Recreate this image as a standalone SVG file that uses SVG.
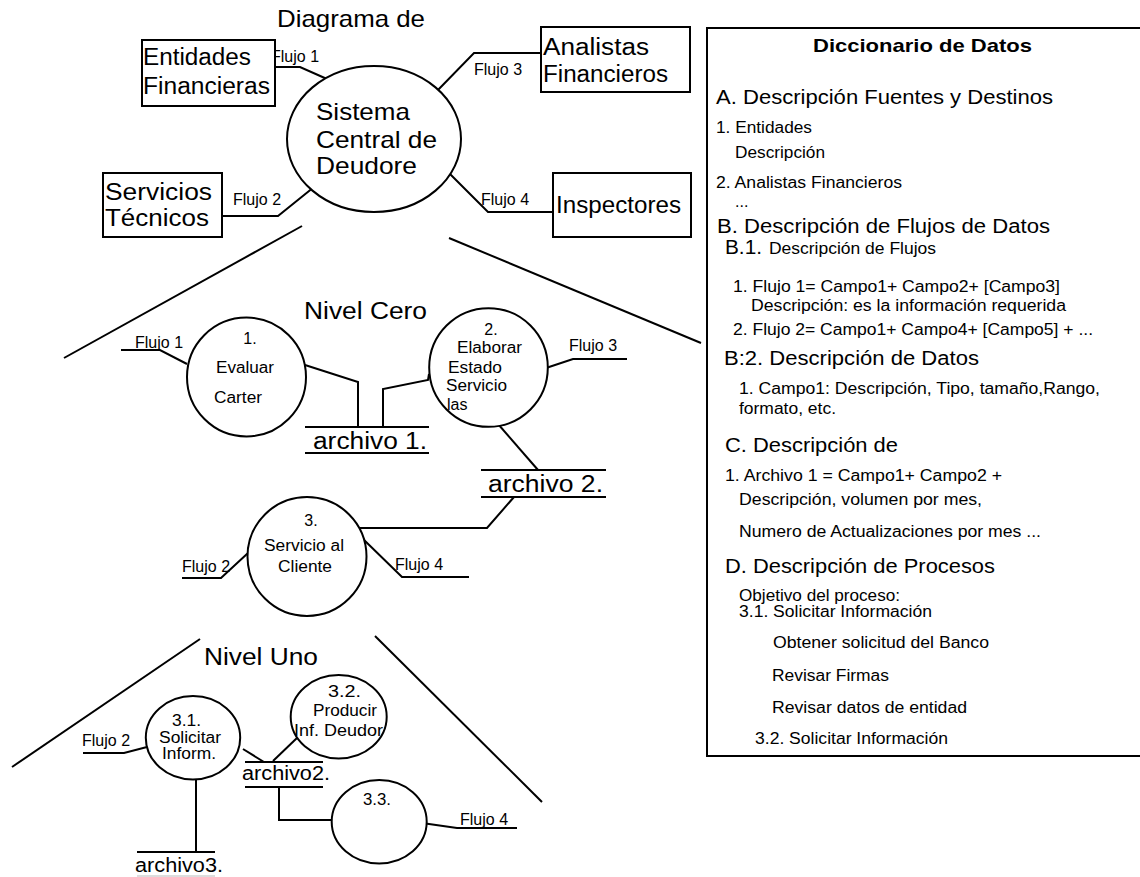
<svg xmlns="http://www.w3.org/2000/svg" width="1140" height="877" viewBox="0 0 1140 877">
<style>
text{font-family:"Liberation Sans",Arial,sans-serif;fill:#000}
.b{fill:#fff;stroke:#000;stroke-width:2}
.c{fill:none;stroke:#000;stroke-width:2}
.t24{font-size:24px}
.t22{font-size:23px}
.t19{font-size:20px}
.t16{font-size:16px}
.t15{font-size:16px}
.h{font-size:19px;font-weight:bold}
</style>
<rect width="1140" height="877" fill="#fff"/>
<text class="t24" x="277" y="27" textLength="148" lengthAdjust="spacingAndGlyphs">Diagrama de</text>

<g id="connectors" class="c">
<polyline points="262,67 300,67 327,79"/>
<polyline points="223,216 278,216 314,187"/>
<polyline points="436,92 474,53 542,53"/>
<polyline points="450,174 488,212 553,212"/>
<line x1="302" y1="226" x2="64" y2="358"/>
<line x1="449" y1="238" x2="701" y2="343"/>
<polyline points="121,350 160,350 187,364"/>
<polyline points="305,365 358,382 358,427"/>
<polyline points="383,427 383,389 428,380 429,374"/>
<polyline points="543,369 573,359 627,359"/>
<line x1="498" y1="424" x2="538" y2="470"/>
<polyline points="514,497 487,528 357,528"/>
<polyline points="182,578 221,578 248,553"/>
<polyline points="362,538 402,577 469,577"/>
<line x1="200" y1="639" x2="12" y2="767"/>
<line x1="375" y1="636" x2="542" y2="802"/>
<polyline points="83,753 124,753 147,747"/>
<line x1="243" y1="749" x2="264" y2="762"/>
<line x1="196" y1="777" x2="196" y2="852"/>
<line x1="298" y1="737" x2="273" y2="761"/>
<polyline points="279,787 279,820 335,820"/>
<polyline points="422,823 457,828 517,828"/>
</g>

<g id="flow-labels" class="t16">
<text x="271" y="62">Flujo 1</text>
<text x="233" y="205">Flujo 2</text>
<text x="474" y="75">Flujo 3</text>
<text x="481" y="205">Flujo 4</text>
<text x="135" y="348">Flujo 1</text>
<text x="569" y="351">Flujo 3</text>
<text x="182" y="572">Flujo 2</text>
<text x="395" y="570">Flujo 4</text>
<text x="82" y="746">Flujo 2</text>
<text x="460" y="825">Flujo 4</text>
</g>

<g id="entidades">
<rect class="b" x="142" y="40" width="133" height="66"/>
<text class="t22" x="143" y="65" textLength="108" lengthAdjust="spacingAndGlyphs">Entidades</text>
<text class="t22" x="143" y="94" textLength="127" lengthAdjust="spacingAndGlyphs">Financieras</text>
</g>
<g id="servicios">
<rect class="b" x="103" y="173" width="119" height="64"/>
<text class="t22" x="105" y="200" textLength="107" lengthAdjust="spacingAndGlyphs">Servicios</text>
<text class="t22" x="105" y="226" textLength="104" lengthAdjust="spacingAndGlyphs">Técnicos</text>
</g>
<g id="analistas">
<rect class="b" x="541" y="27" width="149" height="65"/>
<text class="t22" x="543" y="55" textLength="106" lengthAdjust="spacingAndGlyphs">Analistas</text>
<text class="t22" x="543" y="82" textLength="125" lengthAdjust="spacingAndGlyphs">Financieros</text>
</g>
<g id="inspectores">
<rect class="b" x="553" y="173" width="138" height="64"/>
<text class="t22" x="556" y="213" textLength="125" lengthAdjust="spacingAndGlyphs">Inspectores</text>
</g>
<g id="sistema">
<ellipse class="b" cx="374" cy="139" rx="87" ry="73"/>
<text class="t24" x="316" y="120" textLength="94" lengthAdjust="spacingAndGlyphs">Sistema</text>
<text class="t24" x="316" y="148" textLength="121" lengthAdjust="spacingAndGlyphs">Central de</text>
<text class="t24" x="316" y="174" textLength="101" lengthAdjust="spacingAndGlyphs">Deudore</text>
</g>

<text class="t22" x="304" y="319" textLength="123" lengthAdjust="spacingAndGlyphs">Nivel Cero</text>
<text class="t22" x="204" y="665" textLength="114" lengthAdjust="spacingAndGlyphs">Nivel Uno</text>

<g id="p1">
<circle class="b" cx="246.5" cy="377" r="59.5"/>
<text class="t15" x="250" y="344" text-anchor="middle">1.</text>
<text class="t15" x="216" y="373" textLength="58" lengthAdjust="spacingAndGlyphs">Evaluar</text>
<text class="t15" x="214" y="403" textLength="48" lengthAdjust="spacingAndGlyphs">Carter</text>
</g>
<g id="p2">
<circle class="b" cx="488.5" cy="367.5" r="59.3"/>
<text class="t15" x="491" y="335" text-anchor="middle">2.</text>
<text class="t15" x="457" y="353" textLength="65" lengthAdjust="spacingAndGlyphs">Elaborar</text>
<text class="t15" x="448" y="373" textLength="54" lengthAdjust="spacingAndGlyphs">Estado</text>
<text class="t15" x="446" y="391" textLength="61" lengthAdjust="spacingAndGlyphs">Servicio</text>
<text class="t15" x="447" y="410">las</text>
</g>
<g id="p3">
<circle class="b" cx="307" cy="556.5" r="59.5"/>
<text class="t15" x="311" y="526" text-anchor="middle">3.</text>
<text class="t15" x="264" y="551" textLength="80" lengthAdjust="spacingAndGlyphs">Servicio al</text>
<text class="t15" x="278" y="572" textLength="54" lengthAdjust="spacingAndGlyphs">Cliente</text>
</g>
<g id="archivo1" class="c">
<line x1="305" y1="427" x2="429" y2="427"/>
<line x1="305" y1="453" x2="429" y2="453"/>
<text class="t22" x="313" y="449" textLength="114" lengthAdjust="spacingAndGlyphs" style="stroke:none">archivo 1.</text>
</g>
<g id="archivo2" class="c">
<line x1="481" y1="470" x2="606" y2="470"/>
<line x1="481" y1="497" x2="606" y2="497"/>
<text class="t22" x="488" y="492" textLength="115" lengthAdjust="spacingAndGlyphs" style="stroke:none">archivo 2.</text>
</g>

<g id="p31">
<ellipse class="b" cx="193" cy="737.7" rx="47.2" ry="41.7"/>
<text class="t15" x="172" y="726" textLength="29" lengthAdjust="spacingAndGlyphs">3.1.</text>
<text class="t15" x="159" y="743" textLength="62" lengthAdjust="spacingAndGlyphs">Solicitar</text>
<text class="t15" x="162" y="759" textLength="54" lengthAdjust="spacingAndGlyphs">Inform.</text>
</g>
<g id="p32">
<ellipse class="b" cx="338.7" cy="716.7" rx="48" ry="41.7"/>
<text class="t15" x="328" y="697" textLength="33" lengthAdjust="spacingAndGlyphs">3.2.</text>
<text class="t15" x="313" y="716" textLength="64" lengthAdjust="spacingAndGlyphs">Producir</text>
<text class="t15" x="294" y="736" textLength="89" lengthAdjust="spacingAndGlyphs">Inf. Deudor</text>
</g>
<g id="p33">
<ellipse class="b" cx="379.2" cy="821.7" rx="47.5" ry="41.7"/>
<text class="t15" x="363" y="805" textLength="28" lengthAdjust="spacingAndGlyphs">3.3.</text>
</g>
<g id="archivo2b" class="c">
<line x1="245" y1="762" x2="323" y2="762"/>
<line x1="245" y1="787" x2="323" y2="787"/>
<text class="t19" x="242" y="780" textLength="88" lengthAdjust="spacingAndGlyphs" style="stroke:none">archivo2.</text>
</g>
<g id="archivo3" class="c">
<line x1="137" y1="852" x2="215" y2="852"/>
<line x1="137" y1="876" x2="215" y2="876" style="stroke:#bbb;stroke-width:1"/>
<text class="t19" x="135" y="872" textLength="88" lengthAdjust="spacingAndGlyphs" style="stroke:none">archivo3.</text>
</g>

<g id="diccionario">
<rect class="b" x="707" y="28" width="440" height="728"/>
<text class="h" x="813" y="52" textLength="219" lengthAdjust="spacingAndGlyphs">Diccionario de Datos</text>
<text class="t19" x="716" y="104" textLength="337" lengthAdjust="spacingAndGlyphs">A. Descripción Fuentes y Destinos</text>
<text class="t15" x="716" y="133" textLength="96" lengthAdjust="spacingAndGlyphs">1. Entidades</text>
<text class="t15" x="735" y="158" textLength="90" lengthAdjust="spacingAndGlyphs">Descripción</text>
<text class="t15" x="716" y="188" textLength="186" lengthAdjust="spacingAndGlyphs">2. Analistas Financieros</text>
<text class="t15" x="735" y="207">...</text>
<text class="t19" x="717" y="233" textLength="333" lengthAdjust="spacingAndGlyphs">B. Descripción de Flujos de Datos</text>
<text class="t19" x="725" y="254" textLength="37" lengthAdjust="spacingAndGlyphs">B.1.</text>
<text class="t15" x="769" y="254" textLength="167" lengthAdjust="spacingAndGlyphs">Descripción de Flujos</text>
<text class="t15" x="733" y="292" textLength="327" lengthAdjust="spacingAndGlyphs">1. Flujo 1= Campo1+ Campo2+ [Campo3]</text>
<text class="t15" x="751" y="311" textLength="315" lengthAdjust="spacingAndGlyphs">Descripción: es la información requerida</text>
<text class="t15" x="733" y="335" textLength="360" lengthAdjust="spacingAndGlyphs">2. Flujo 2= Campo1+ Campo4+ [Campo5] + ...</text>
<text class="t19" x="724" y="365" textLength="255" lengthAdjust="spacingAndGlyphs">B:2. Descripción de Datos</text>
<text class="t15" x="739" y="394" textLength="361" lengthAdjust="spacingAndGlyphs">1. Campo1: Descripción, Tipo, tamaño,Rango,</text>
<text class="t15" x="739" y="414" textLength="97" lengthAdjust="spacingAndGlyphs">formato, etc.</text>
<text class="t19" x="725" y="452" textLength="173" lengthAdjust="spacingAndGlyphs">C. Descripción de</text>
<text class="t15" x="725" y="481" textLength="277" lengthAdjust="spacingAndGlyphs">1. Archivo 1 = Campo1+ Campo2 +</text>
<text class="t15" x="739" y="505" textLength="243" lengthAdjust="spacingAndGlyphs">Descripción, volumen por mes,</text>
<text class="t15" x="739" y="537" textLength="302" lengthAdjust="spacingAndGlyphs">Numero de Actualizaciones por mes ...</text>
<text class="t19" x="725" y="573" textLength="270" lengthAdjust="spacingAndGlyphs">D. Descripción de Procesos</text>
<text class="t15" x="739" y="601" textLength="161" lengthAdjust="spacingAndGlyphs">Objetivo del proceso:</text>
<text class="t15" x="739" y="617" textLength="193" lengthAdjust="spacingAndGlyphs">3.1. Solicitar Información</text>
<text class="t15" x="773" y="648" textLength="216" lengthAdjust="spacingAndGlyphs">Obtener solicitud del Banco</text>
<text class="t15" x="772" y="681" textLength="117" lengthAdjust="spacingAndGlyphs">Revisar Firmas</text>
<text class="t15" x="772" y="713" textLength="195" lengthAdjust="spacingAndGlyphs">Revisar datos de entidad</text>
<text class="t15" x="755" y="744" textLength="193" lengthAdjust="spacingAndGlyphs">3.2. Solicitar Información</text>
</g>
</svg>
